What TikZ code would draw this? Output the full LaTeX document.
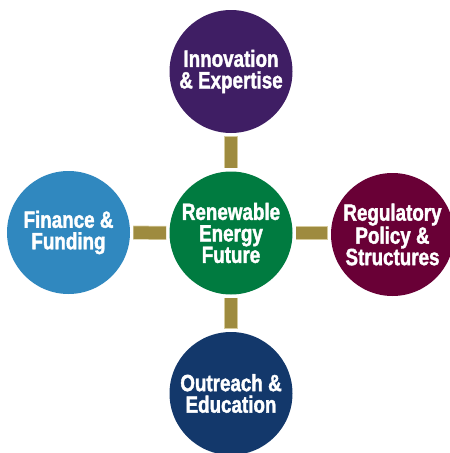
\documentclass[tikz,border=0pt]{standalone}
\usepackage{fontspec}
\newfontfamily\labelfont{Liberation Sans}[FakeStretch=0.8,BoldFeatures={FakeBold=1.6}]
\definecolor{cpurple}{HTML}{3F1E64}
\definecolor{cgreen}{HTML}{007B40}
\definecolor{cblue}{HTML}{3088BF}
\definecolor{cmaroon}{HTML}{690036}
\definecolor{cnavy}{HTML}{13386B}
\definecolor{cbar}{HTML}{9E8B3F}
\definecolor{cbarlight}{HTML}{D6CB9C}
\begin{document}
\begin{tikzpicture}[x=1pt,y=-1pt,
  hub/.style={circle,minimum size=123pt,inner sep=0pt,text=white,align=center,
    font=\labelfont\bfseries\fontsize{23.5}{21.5}\selectfont},
  bar/.style={draw=cbar,line width=12.5pt,shorten <=3.5pt,shorten >=3.5pt,
    preaction={draw=cbarlight,line width=14pt,shorten <=3pt,shorten >=3pt}}]
  \useasboundingbox (0,0) rectangle (450,453);
  \begin{scope}
    \clip (0,0) rectangle (450,453);
    \node[hub,fill=cgreen]  (core)   at (231,233)   {Renewable\\Energy\\Future};
    \node[hub,fill=cpurple] (innov)  at (231,71.5)  {Innovation\\\& Expertise};
    \node[hub,fill=cblue]   (fin)    at (68.5,232.5){Finance \&\\Funding};
    \node[hub,fill=cmaroon] (policy) at (392.5,234.5){Regulatory\\Policy \&\\Structures};
    \node[hub,fill=cnavy]   (outr)   at (231,393.5) {Outreach \&\\Education};
    % connecting bars between the central circle and each outer circle
    \draw[bar] (innov) -- (core);
    \draw[bar] (fin) -- (core);
    \draw[bar] (core) -- (policy.west |- core);
    \draw[bar] (core) -- (outr);
  \end{scope}
\end{tikzpicture}
\end{document}
